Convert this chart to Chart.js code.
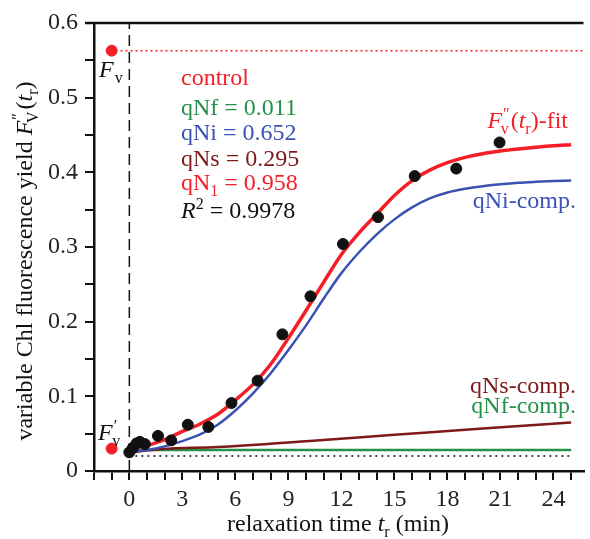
<!DOCTYPE html>
<html>
<head>
<meta charset="utf-8">
<script src="https://cdn.jsdelivr.net/npm/chart.js@4/dist/chart.umd.min.js"></script>
<style>
  html, body { margin: 0; padding: 0; background: #fff; overflow: hidden; }
  #wrap { width: 590px; height: 539px; }
</style>
</head>
<body>
<div id="wrap"><canvas id="chart" width="590" height="539"></canvas></div>
<script>
// relaxation time (min) and measured variable fluorescence
const measT = [0, 0.2, 0.41, 0.6, 0.88, 1.62, 2.37, 3.31, 4.47, 5.78, 7.26, 8.66, 10.25, 12.09, 14.07, 16.15, 18.5, 20.95];
const measY = [0.025, 0.031, 0.037, 0.039, 0.036, 0.047, 0.041, 0.062, 0.059, 0.091, 0.121, 0.183, 0.234, 0.304, 0.340, 0.395, 0.405, 0.440];

// fit curve and its components
const fitT   = [0, 0.3, 1, 2, 3, 4, 5, 6, 7, 8, 9, 10, 11, 12, 13, 14, 15, 16, 17, 18, 19, 20, 21, 22, 23, 24, 25];
const fitY   = [0.025, 0.030, 0.034, 0.042, 0.053, 0.063, 0.076, 0.095, 0.116, 0.143, 0.178, 0.215, 0.253, 0.290, 0.319, 0.344, 0.369, 0.389, 0.403, 0.413, 0.420, 0.425, 0.4285, 0.4312, 0.4335, 0.4355, 0.437];
const qNiY   = [0.024, 0.026, 0.028, 0.033, 0.040, 0.049, 0.062, 0.081, 0.104, 0.131, 0.162, 0.195, 0.231, 0.265, 0.293, 0.317, 0.337, 0.353, 0.365, 0.373, 0.378, 0.3815, 0.384, 0.386, 0.3873, 0.3883, 0.389];
const qNsT   = [0, 0.3, 5, 10, 15, 20, 25];
const qNsY   = [0.022, 0.025, 0.032, 0.040, 0.0485, 0.057, 0.065];
const qNfT   = [0, 0.3, 25];
const qNfY   = [0.022, 0.028, 0.028];

// reference levels
const fvPoint  = { t: -1, y: 0.563 };
const fv0Point = { t: -1, y: 0.030 };
const fvLevel = 0.563;
const baseLevel = 0.020;

const xTicks = [-2, -1, 0, 1, 2, 3, 4, 5, 6, 7, 8, 9, 10, 11, 12, 13, 14, 15, 16, 17, 18, 19, 20, 21, 22, 23, 24, 25];
const xLabels = [0, 3, 6, 9, 12, 15, 18, 21, 24];
const yTicks = [0, 0.05, 0.1, 0.15, 0.2, 0.25, 0.3, 0.35, 0.4, 0.45, 0.5, 0.55, 0.6];
const yLabels = ['0', '0.1', '0.2', '0.3', '0.4', '0.5', '0.6'];

const colors = {
    red: '#f41e26',
    blue: '#3a52b2',
    darkRed: '#7c1a1a',
    green: '#23914a',
    black: '#111111'
};

const SERIF = "'Liberation Serif', 'DejaVu Serif', serif";
Chart.defaults.font.family = SERIF;
Chart.defaults.font.size = 24;

const pts = (xs, ys) => xs.map((x, i) => ({ x: x, y: ys[i] }));

// draws a run of text pieces (italic, sub, sup) starting at x,y
function richText(ctx, parts, x, y, size, color, align) {
    const fontOf = p => (p.italic ? 'italic ' : '') + Math.round(p.sub || p.sup ? size * 0.68 : size) + 'px ' + SERIF;
    let total = 0;
    parts.forEach(p => { ctx.font = fontOf(p); total += ctx.measureText(p.t).width + (p.dx || 0); });
    let cx = align === 'right' ? x - total : align === 'center' ? x - total / 2 : x;
    ctx.fillStyle = color;
    ctx.textBaseline = 'alphabetic';
    ctx.textAlign = 'left';
    parts.forEach(p => {
        ctx.font = fontOf(p);
        const dy = p.sub ? size * 0.25 : p.sup ? -size * 0.38 : 0;
        ctx.fillText(p.t, cx + (p.dx || 0), y + dy);
        cx += ctx.measureText(p.t).width + (p.dx || 0);
    });
}

const annotations = {
    id: 'annotations',
    afterDraw(chart) {
        const ctx = chart.ctx;
        const area = chart.chartArea;
        ctx.save();

        // top frame line
        ctx.strokeStyle = colors.black;
        ctx.lineWidth = 2.5;
        ctx.beginPath();
        ctx.moveTo(area.left - 9, area.top);
        ctx.lineTo(area.right, area.top);
        ctx.stroke();

        const S = 24;
        richText(ctx, [{ t: 'control' }], 181, 85, S, colors.red);
        richText(ctx, [{ t: 'qNf = 0.011' }], 181, 115, S, colors.green);
        richText(ctx, [{ t: 'qNi = 0.652' }], 181, 140, S, colors.blue);
        richText(ctx, [{ t: 'qNs = 0.295' }], 181, 166, S, colors.darkRed);
        richText(ctx, [{ t: 'qN' }, { t: '1', sub: true }, { t: ' = 0.958' }], 181, 190, S, colors.red);
        richText(ctx, [{ t: 'R', italic: true }, { t: '2', sup: true }, { t: ' = 0.9978' }], 181, 218, S, colors.black);

        richText(ctx, [{ t: 'F', italic: true }, { t: '″', sup: true, dx: 1 }, { t: 'v', sub: true, dx: -9 }, { t: '(' , dx: 2 }, { t: 't', italic: true }, { t: 'r', sub: true }, { t: ')-fit' }], 568, 128, S, colors.red, 'right');
        richText(ctx, [{ t: 'qNi-comp.' }], 576, 208, S, colors.blue, 'right');
        richText(ctx, [{ t: 'qNs-comp.' }], 576, 393, S, colors.darkRed, 'right');
        richText(ctx, [{ t: 'qNf-comp.' }], 576, 413, S, colors.green, 'right');

        richText(ctx, [{ t: 'F', italic: true }, { t: 'v', sub: true, dx: 1 }], 99, 77, S, colors.black);
        richText(ctx, [{ t: 'F', italic: true }, { t: '′', sup: true, dx: 1 }, { t: 'v', sub: true, dx: -5 }], 98, 440, S, colors.black);

        // axis titles
        richText(ctx, [{ t: 'relaxation time ' }, { t: 't', italic: true }, { t: 'r', sub: true }, { t: ' (min)' }], 338, 531, S, colors.black, 'center');

        ctx.translate(32, 261);
        ctx.rotate(-Math.PI / 2);
        richText(ctx, [{ t: 'variable Chl fluorescence yield ' }, { t: 'F', italic: true }, { t: '″', sup: true, dx: 1 }, { t: 'V', sub: true, dx: -10 }, { t: '(', dx: 2 }, { t: 't', italic: true }, { t: 'r', sub: true }, { t: ')' }], 0, 0, S, colors.black, 'center');

        ctx.restore();
    }
};

const ctx = document.getElementById('chart').getContext('2d');

new Chart(ctx, {
    type: 'scatter',
    data: {
        datasets: [
            {
                label: 'measured',
                data: pts(measT, measY),
                backgroundColor: colors.black,
                borderColor: colors.black,
                pointRadius: 5.5,
                showLine: false
            },
            {
                label: 'Fv',
                data: [{ x: fvPoint.t, y: fvPoint.y }, { x: fv0Point.t, y: fv0Point.y }],
                backgroundColor: colors.red,
                borderColor: colors.red,
                pointRadius: 5.5,
                showLine: false
            },
            {
                label: 'fit',
                data: pts(fitT, fitY),
                borderColor: colors.red,
                borderWidth: 3.5,
                pointRadius: 0,
                showLine: true,
                cubicInterpolationMode: 'monotone'
            },
            {
                label: 'qNi-comp.',
                data: pts(fitT, qNiY),
                borderColor: colors.blue,
                borderWidth: 2.5,
                pointRadius: 0,
                showLine: true,
                cubicInterpolationMode: 'monotone'
            },
            {
                label: 'qNs-comp.',
                data: pts(qNsT, qNsY),
                borderColor: colors.darkRed,
                borderWidth: 2.5,
                pointRadius: 0,
                showLine: true,
                cubicInterpolationMode: 'monotone'
            },
            {
                label: 'qNf-comp.',
                data: pts(qNfT, qNfY),
                borderColor: colors.green,
                borderWidth: 2.5,
                pointRadius: 0,
                showLine: true
            },
            {
                label: 'Fv level',
                data: [{ x: -0.5, y: fvLevel }, { x: 25.7, y: fvLevel }],
                borderColor: colors.red,
                borderWidth: 1.5,
                borderDash: [2, 3],
                pointRadius: 0,
                showLine: true
            },
            {
                label: 'base level',
                data: [{ x: 0, y: baseLevel }, { x: 25, y: baseLevel }],
                borderColor: colors.black,
                borderWidth: 1.5,
                borderDash: [2, 4],
                pointRadius: 0,
                showLine: true
            },
            {
                label: 'tr = 0',
                data: [{ x: 0, y: 0 }, { x: 0, y: 0.6 }],
                borderColor: colors.black,
                borderWidth: 1.5,
                borderDash: [11, 6],
                pointRadius: 0,
                showLine: true
            }
        ]
    },
    options: {
        responsive: false,
        animation: false,
        layout: { padding: { top: 23, right: 0, left: 0, bottom: 0 } },
        plugins: {
            legend: { display: false },
            tooltip: { enabled: false }
        },
        scales: {
            x: {
                type: 'linear',
                min: -2,
                max: 25.7,
                afterBuildTicks: scale => { scale.ticks = xTicks.map(v => ({ value: v })); },
                afterFit: scale => { scale.height = 68; },
                border: { display: true, color: colors.black, width: 2.5 },
                grid: { drawOnChartArea: false, drawTicks: true, tickLength: 9, tickColor: colors.black, lineWidth: 2 },
                ticks: {
                    autoSkip: false,
                    maxRotation: 0,
                    padding: 5,
                    color: '#222',
                    font: { family: 'Liberation Serif', size: 24 },
                    callback: v => xLabels.includes(v) ? String(v) : ''
                }
            },
            y: {
                type: 'linear',
                min: 0,
                max: 0.6,
                afterBuildTicks: scale => { scale.ticks = yTicks.map(v => ({ value: v })); },
                afterFit: scale => { scale.width = 94; },
                border: { display: true, color: colors.black, width: 2.5 },
                grid: { drawOnChartArea: false, drawTicks: true, tickLength: 9, tickColor: colors.black, lineWidth: 2 },
                ticks: {
                    autoSkip: false,
                    padding: 7,
                    color: '#222',
                    font: { family: 'Liberation Serif', size: 24 },
                    callback: v => {
                        const s = String(Math.round(v * 100) / 100);
                        return yLabels.includes(s) ? s : '';
                    }
                }
            }
        }
    },
    plugins: [annotations]
});
</script>
</body>
</html>
